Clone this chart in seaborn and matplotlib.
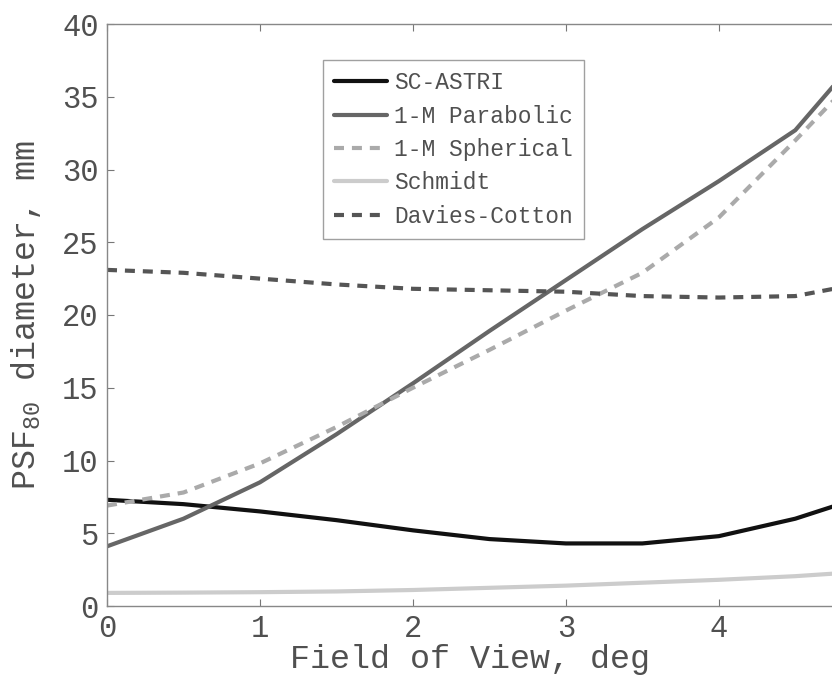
import matplotlib
matplotlib.use("Agg")
import matplotlib.pyplot as plt
import seaborn as sns
import numpy as np
import pandas as pd

fov = [0, 0.5, 1, 1.5, 2, 2.5, 3, 3.5, 4, 4.5, 5]
sc_astri = [7.3, 7.0, 6.5, 5.9, 5.2, 4.6, 4.3, 4.3, 4.8, 6.0, 7.7]
parabolic = [4.1, 6.0, 8.5, 11.8, 15.3, 18.9, 22.4, 25.9, 29.2, 32.7, 38.8]
spherical = [6.9, 7.8, 9.8, 12.3, 15.0, 17.6, 20.3, 22.9, 26.7, 32.0, 37.5]
schmidt = [0.9, 0.92, 0.95, 1.0, 1.1, 1.25, 1.4, 1.6, 1.8, 2.05, 2.4]
davies = [23.1, 22.9, 22.5, 22.1, 21.8, 21.7, 21.6, 21.3, 21.2, 21.3, 22.3]

series_names = ["SC-ASTRI", "1-M Parabolic", "1-M Spherical", "Schmidt", "Davies-Cotton"]
series_vals = [sc_astri, parabolic, spherical, schmidt, davies]
colors = ["#111111", "#666666", "#aaaaaa", "#cccccc", "#555555"]
dashed = [False, False, True, False, True]

xticks = [0, 1, 2, 3, 4]
yticks = [0, 5, 10, 15, 20, 25, 30, 35, 40]

sns.set_style("white")
plt.rcParams['font.family'] = ['Liberation Mono', 'DejaVu Sans']
plt.rcParams['mathtext.fontset'] = 'custom'
plt.rcParams['mathtext.rm'] = 'Liberation Mono'
plt.rcParams['mathtext.default'] = 'regular'

fig = plt.figure(figsize=(8.32, 6.77), dpi=100)
ax = fig.add_axes([107/832, 1 - 606/677, (832 - 107)/832, (606 - 24)/677])

for name, vals, c, d in zip(series_names, series_vals, colors, dashed):
    df = pd.DataFrame({"fov": fov, "psf": vals})
    sns.lineplot(data=df, x="fov", y="psf", ax=ax, color=c, lw=3.0, label=name)
    if d:
        ax.lines[-1].set_dashes((2.4, 1.9))

ax.set_xlim(0, 4.74)
ax.set_ylim(0, 40)
ax.set_xticks(xticks)
ax.set_yticks(yticks)
ax.tick_params(direction="in", length=5, width=0.8, colors="#777777",
               labelcolor="#505050", labelsize=22, top=True, bottom=True,
               left=True, right=False, pad=6)
for s in ["left", "top", "bottom"]:
    ax.spines[s].set_color("#888888")
    ax.spines[s].set_linewidth(1.0)
ax.spines["right"].set_visible(False)

ax.set_xlabel("Field of View, deg", fontsize=24, color="#505050", labelpad=0)
ax.set_ylabel("PSF$_{80}$ diameter, mm", fontsize=24, color="#505050", labelpad=14)

leg = ax.legend(loc="upper left", bbox_to_anchor=(216/725, 1 - 36/582),
                fontsize=16.5, frameon=True, fancybox=False, handlelength=2.3,
                handletextpad=0.3, labelspacing=0.45, borderpad=0.5,
                borderaxespad=0)
leg.get_frame().set_edgecolor("#888888")
leg.get_frame().set_linewidth(1.0)
for t in leg.get_texts():
    t.set_color("#505050")

fig.savefig("out.png", dpi=100)
